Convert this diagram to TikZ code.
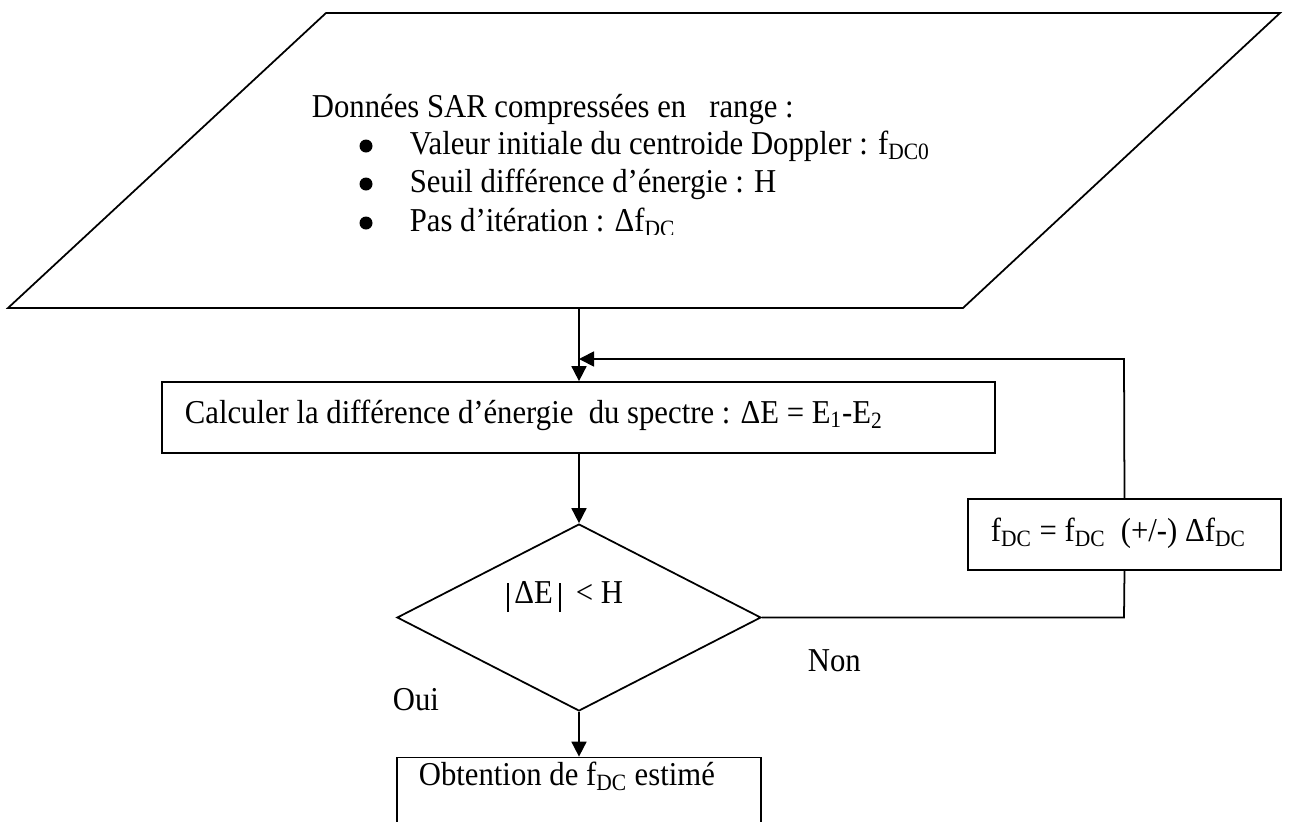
\documentclass[tikz,border=0pt]{standalone}
\usepackage{fontspec}
\setmainfont[FakeStretch=0.92]{Liberation Serif}
\usetikzlibrary{shapes.geometric,arrows.meta}
\begin{document}
\begin{tikzpicture}[x=0.02cm,y=-0.02cm,
  font=\fontsize{19}{23}\selectfont,
  line width=1pt,
  box/.style={draw, rectangle, inner sep=0pt},
  dec/.style={draw, diamond, inner sep=0pt},
  txt/.style={anchor=base west, inner sep=0pt},
  arr/.style={-{Triangle[length=0.3cm,width=0.3cm]}}]
\clip (0,0) rectangle (1289,822);
% input parallelogram
\draw (326,13) coordinate (pTL) -- (1280,13) coordinate (pTR)
   -- (963,308) coordinate (pBR) -- (8,308) coordinate (pBL) -- cycle;
\coordinate (pout) at (579,308);
\node[txt] (t0) at (311,117) {Données SAR compressées en \ \ range :};
\fill (366,146) circle (6.5);
\node[txt] (l1) at (409,154) {Valeur initiale du centroide Doppler : f\textsubscript{DC0}};
\fill (366,184) circle (6.5);
\node[txt] (l2) at (409,192) {Seuil différence d’énergie : H};
\fill (366,223) circle (6.5);
\begin{scope}
\clip (300,200) rectangle (1000,234);
\node[txt] (l3) at (409,231) {Pas d’itération : Δf\textsubscript{DC}};
\end{scope}
% process box
\node[box, minimum width=16.66cm, minimum height=1.42cm] (calc) at (578.5,417.5) {};
\node[txt] (calct) at (184,423) {Calculer la différence d’énergie \ du spectre : ΔE = E\textsubscript{1}-E\textsubscript{2}};
% decision
\node[dec, minimum width=7.28cm, minimum height=3.74cm] (test) at (579,617.5) {};
\node[txt] (testt) at (506,603) {\rule[-0.18cm]{0.04cm}{0.58cm}\,ΔE\,\rule[-0.18cm]{0.04cm}{0.58cm}\ \ < H};
% update box
\node[box, minimum width=6.26cm, minimum height=1.42cm] (upd) at (1124.5,534.5) {};
\node[txt] (updt) at (990,541) {f\textsubscript{DC} = f\textsubscript{DC} \ (+/-) Δf\textsubscript{DC}};
% result box
\node[box, minimum width=7.28cm, minimum height=1.7cm] (res) at (579,800) {};
\node[txt] (rest) at (418,785) {Obtention de f\textsubscript{DC} estimé};
% labels
\node[txt] (non) at (807,671) {Non};
\node[txt] (oui) at (392,710) {Oui};
% connectors
\coordinate (loopR) at (1124,359);
\coordinate (loopL) at (579,359);
\coordinate (noR) at (1124,617.5);
\draw[arr] (pout) -- (calc.north -| pout);
\draw[arr] (upd.north) -- (loopR) -- (loopL);
\draw[arr] (calc.south -| test.north) -- (test.north);
\draw (test.east) -- (noR) -- (upd.south);
\draw[arr] (test.south) -- (res.north);
\end{tikzpicture}
\end{document}
